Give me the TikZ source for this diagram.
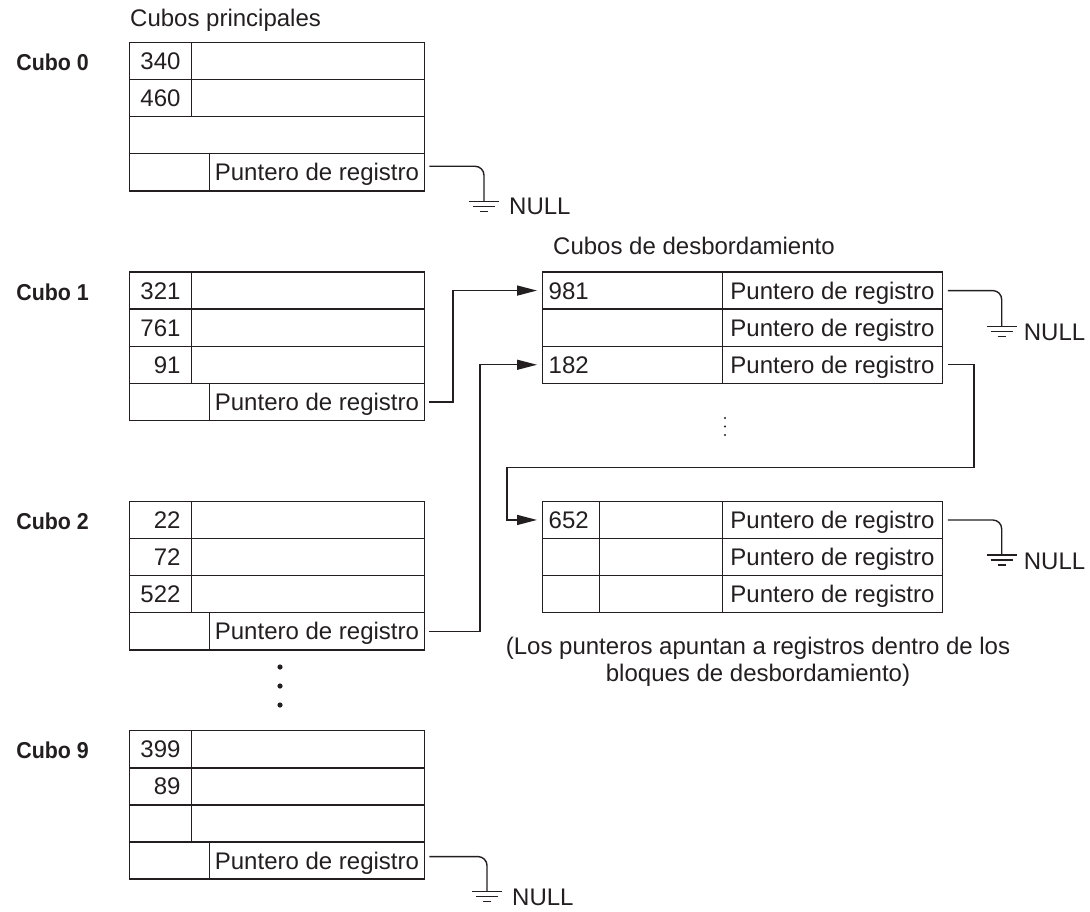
\documentclass[tikz,border=0pt]{standalone}
\usepackage{fontspec}
\usepackage{graphicx}
\setmainfont{Liberation Sans}
\usetikzlibrary{arrows.meta,calc}
\definecolor{ink}{HTML}{231F20}
\newcommand\fmain{\fontsize{24}{27}\selectfont}
\newcommand\fbold{\fontsize{23}{27}\selectfont\bfseries}
\newcommand\narrowlbl[1]{\scalebox{0.93}[1]{#1}}
\tikzset{
  lbl/.style={font=\fmain, text=ink, inner sep=0pt},
  cubelbl/.style={font=\fbold, text=ink, inner sep=0pt, anchor=base east},
  cell/.style={draw=ink, line width=1.4pt, anchor=north west, minimum height=37.1pt,
    inner xsep=0pt, inner ysep=0pt, text height=17pt, text depth=0pt, font=\fmain, text=ink},
  numcell/.style={cell, text width=40pt, inner xsep=10.75pt, align=right},
  widecell/.style={cell, minimum width=#1},
  ptrcell/.style={cell, minimum width=215.5pt},
  ovnum/.style={cell, text width=#1, inner xsep=6pt, align=left},
  ovptr/.style={cell, minimum width=219.5pt},
  conn/.style={draw=ink, line width=1.4pt},
  arr/.style={-{Triangle[length=20pt,width=10pt]}},
  gnd/.pic={\draw[ink, line width=1.3pt] (-15,0)--(15,0) (-11,5)--(11,5) (-4,10)--(4,10);}
}
\begin{document}
\begin{tikzpicture}[x=1pt,y=-1pt]
\useasboundingbox (0,0) rectangle (1090,911);

% headers
\node[lbl, anchor=base west] (hdr0) at (130,26.7) {Cubos principales};
\node[lbl, anchor=base west] (hdr1) at (553,254) {Cubos de desbordamiento};

% Cubo 0
\node[cubelbl] (k0) at (89,70.7) {\narrowlbl{Cubo 0}};
\node[numcell] (b0n1) at (129,41.7) {340};
\node[widecell=233.5pt] (b0w1) at (190.5,41.7) {};
\node[numcell] (b0n2) at (129,78.8) {460};
\node[widecell=233.5pt] (b0w2) at (190.5,78.8) {};
\node[widecell=295pt] (b0w3) at (129,115.9) {};
\node[widecell=79.5pt] (b0l4) at (129,153) {};
\node[ptrcell] (b0p) at (208.5,153) {Puntero de registro};

% Cubo 1
\node[cubelbl] (k1) at (89,300) {\narrowlbl{Cubo 1}};
\node[numcell] (b1n1) at (129,271.3) {321};
\node[widecell=233.5pt] (b1w1) at (190.5,271.3) {};
\node[numcell] (b1n2) at (129,308.4) {761};
\node[widecell=233.5pt] (b1w2) at (190.5,308.4) {};
\node[numcell] (b1n3) at (129,345.5) {91};
\node[widecell=233.5pt] (b1w3) at (190.5,345.5) {};
\node[widecell=79.5pt] (b1l4) at (129,382.6) {};
\node[ptrcell] (b1p) at (208.5,382.6) {Puntero de registro};

% Cubo 2
\node[cubelbl] (k2) at (89,529.5) {\narrowlbl{Cubo 2}};
\node[numcell] (b2n1) at (129,500.7) {22};
\node[widecell=233.5pt] (b2w1) at (190.5,500.7) {};
\node[numcell] (b2n2) at (129,537.8) {72};
\node[widecell=233.5pt] (b2w2) at (190.5,537.8) {};
\node[numcell] (b2n3) at (129,574.9) {522};
\node[widecell=233.5pt] (b2w3) at (190.5,574.9) {};
\node[widecell=79.5pt] (b2l4) at (129,612) {};
\node[ptrcell] (b2p) at (208.5,612) {Puntero de registro};

% dots
\fill[ink] (280,667) circle (2.6);
\fill[ink] (280,686) circle (2.6);
\fill[ink] (280,705) circle (2.6);

% Cubo 9
\node[cubelbl] (k9) at (89,758.8) {\narrowlbl{Cubo 9}};
\node[numcell] (b9n1) at (129,730) {399};
\node[widecell=233.5pt] (b9w1) at (190.5,730) {};
\node[numcell] (b9n2) at (129,767.1) {89};
\node[widecell=233.5pt] (b9w2) at (190.5,767.1) {};
\node[numcell] (b9n3) at (129,804.2) {};
\node[widecell=233.5pt] (b9w3) at (190.5,804.2) {};
\node[widecell=79.5pt] (b9l4) at (129,841.3) {};
\node[ptrcell] (b9p) at (208.5,841.3) {Puntero de registro};

% Overflow block 1
\node[ovnum=168pt] (o1a1) at (542,271.3) {981};
\node[ovptr] (o1p1) at (722,271.3) {Puntero de registro};
\node[ovnum=168pt] (o1a2) at (542,308.4) {};
\node[ovptr] (o1p2) at (722,308.4) {Puntero de registro};
\node[ovnum=168pt] (o1a3) at (542,345.5) {182};
\node[ovptr] (o1p3) at (722,345.5) {Puntero de registro};

% small vertical ellipsis
\fill[ink] (725,418) circle (1.2);
\fill[ink] (725,426.5) circle (1.2);
\fill[ink] (725,435) circle (1.2);

% Overflow block 2
\node[ovnum=45pt] (o2a1) at (542,500.7) {652};
\node[widecell=123pt] (o2b1) at (599,500.7) {};
\node[ovptr] (o2p1) at (722,500.7) {Puntero de registro};
\node[ovnum=45pt] (o2a2) at (542,537.8) {};
\node[widecell=123pt] (o2b2) at (599,537.8) {};
\node[ovptr] (o2p2) at (722,537.8) {Puntero de registro};
\node[ovnum=45pt] (o2a3) at (542,574.9) {};
\node[widecell=123pt] (o2b3) at (599,574.9) {};
\node[ovptr] (o2p3) at (722,574.9) {Puntero de registro};

% caption
\node[lbl, align=center, anchor=base] (cap) at (758,681.6) {(Los punteros apuntan a registros dentro de los\\bloques de desbordamiento)};

% grounds
\coordinate (g0) at (484,201.7);
\coordinate (g1) at (1001.7,326.7);
\coordinate (g2) at (1001.7,555);
\coordinate (g9) at (487,891.7);
\pic at (g0) {gnd};
\pic at (g1) {gnd};
\pic at (g2) {gnd};
\pic at (g9) {gnd};
\node[lbl, anchor=base west] (null0) at ($(g0)+(25,12.5)$) {NULL};
\node[lbl, anchor=base west] (null1) at ($(g1)+(22,14)$) {NULL};
\node[lbl, anchor=base west] (null2) at ($(g2)+(22,14)$) {NULL};
\node[lbl, anchor=base west] (null9) at ($(g9)+(25,14)$) {NULL};

% connectors
\draw[conn, rounded corners=9pt] ($(b0p.east)+(4,-6)$) -| (g0);
\draw[conn, rounded corners=9pt] ($(b9p.east)+(4,-4)$) -| (g9);
\draw[conn, rounded corners=9pt] ($(o1p1.east)+(5,0)$) -| (g1);
\draw[conn, rounded corners=9pt] ($(o2p1.east)+(5,0)$) -| (g2);
\draw[conn, arr] ($(b1p.east)+(4,0)$) -| ($(o1a1.west)+(-89,0)$) -- ($(o1a1.west)+(-5,0)$);
\draw[conn, arr] ($(b2p.east)+(4,0)$) -| ($(o1a3.west)+(-62,0)$) -- ($(o1a3.west)+(-5,0)$);
\draw[conn, arr] ($(o1p3.east)+(5,0)$) -| ($(o1p3.east)+(31,102.5)$) -| ($(o2a1.west)+(-35,0)$) -- ($(o2a1.west)+(-5,0)$);
\end{tikzpicture}
\end{document}
